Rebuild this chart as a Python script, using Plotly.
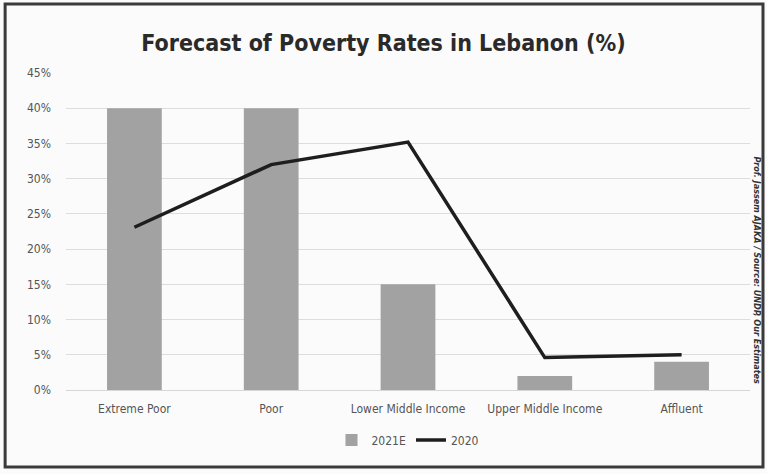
import plotly.graph_objects as go

categories = ["Extreme Poor", "Poor", "Lower Middle Income", "Upper Middle Income", "Affluent"]
values_2021e = [40, 40, 15, 2, 4]
values_2020 = [23.1, 32, 35.2, 4.6, 5]
tick_vals = [0, 5, 10, 15, 20, 25, 30, 35, 40, 45]
tick_text = [f"{v}%" for v in tick_vals]

FONT = "Liberation Sans Narrow, DejaVu Sans Condensed, Arial Narrow, sans-serif"

fig = go.Figure()
fig.add_trace(go.Bar(
    x=categories, y=values_2021e, name="2021E",
    marker=dict(color="#a2a2a2", line=dict(width=0)),
    width=0.4,
))
fig.add_trace(go.Scatter(
    x=categories, y=values_2020, name="2020", mode="lines",
    line=dict(color="#1e1e1e", width=3.5),
))

fig.update_layout(
    width=767, height=474,
    paper_bgcolor="#fbfbfb", plot_bgcolor="#fbfbfb",
    margin=dict(l=66, r=17, t=73, b=84),
    title=dict(
        text="<b>Forecast of Poverty Rates in Lebanon (%)</b>",
        x=0.5, xanchor="center", y=0.909, yanchor="middle",
        font=dict(family=FONT, size=23, color="#2a2a2a"),
    ),
    font=dict(family=FONT, color="#555555"),
    xaxis=dict(
        showgrid=False, showline=True, linecolor="#d6d6d6", linewidth=1,
        tickfont=dict(size=12, color="#555555"), ticks="", ticklabelstandoff=8,
    ),
    yaxis=dict(
        range=[0, 45], tickvals=tick_vals, ticktext=tick_text,
        showgrid=True, gridcolor="#dddddd", gridwidth=1, zeroline=False,
        tickfont=dict(size=12, color="#555555"), ticks="", ticklabelstandoff=14,
    ),
    legend=dict(
        orientation="h", x=0.5, xanchor="center", y=-0.158, yanchor="middle",
        font=dict(size=12, color="#555555"), bgcolor="rgba(0,0,0,0)",
    ),
    bargap=0.6,
    showlegend=True,
)

fig.add_annotation(
    text="<i><b>Prof. Jassem AJAKA / Source: UNDP, Our Estimates</b></i>",
    xref="paper", yref="paper", x=1.0, y=0.38, xanchor="left", yanchor="middle",
    xshift=0, textangle=90, showarrow=False,
    font=dict(family=FONT, size=9, color="#333333"),
)

fig.add_shape(
    type="rect", xref="paper", yref="paper",
    x0=-0.089, x1=1.019, y0=-0.243, y1=1.218,
    line=dict(color="#3a3a3a", width=3), layer="below",
)

fig.write_html(
    "out.html",
    config={"displayModeBar": False},
    post_script="document.body.style.margin='0';",
)
